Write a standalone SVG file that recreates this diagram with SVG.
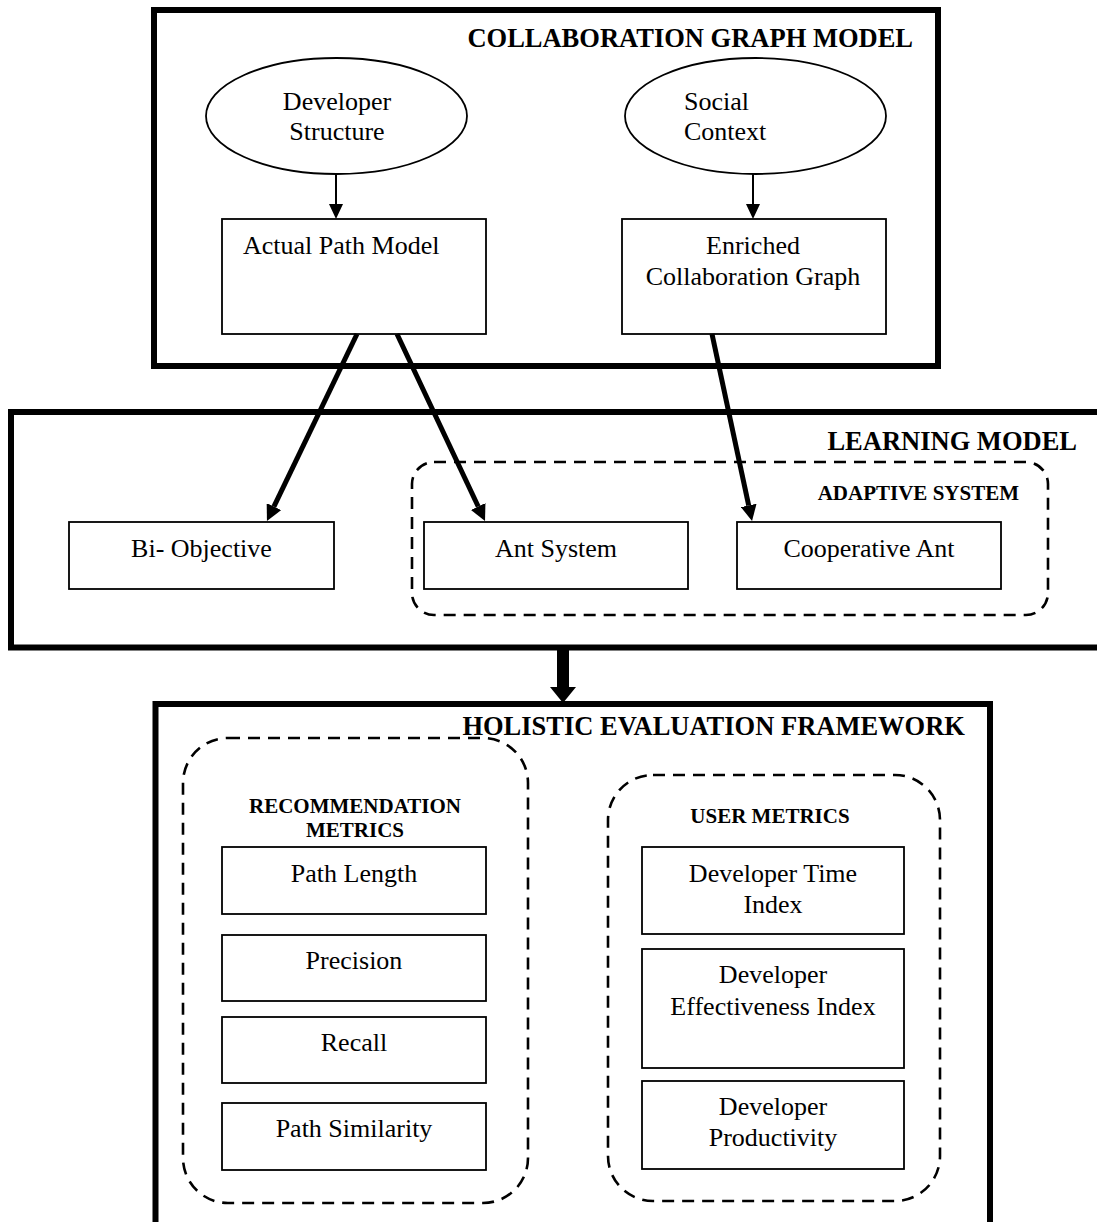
<svg xmlns="http://www.w3.org/2000/svg" width="1097" height="1222" viewBox="0 0 1097 1222">
<style>
.frame{fill:none;stroke:#000;stroke-width:6}
.box{fill:#fff;stroke:#000;stroke-width:1.8}
.dash{fill:none;stroke:#000;stroke-width:2.6;stroke-dasharray:12 8}
.t{font-family:"Liberation Serif","Times New Roman",serif;font-size:26px;fill:#000}
.h{font-family:"Liberation Serif","Times New Roman",serif;font-size:26.5px;font-weight:bold;fill:#000}
.s{font-family:"Liberation Serif","Times New Roman",serif;font-size:21px;font-weight:bold;fill:#000}
.c{text-anchor:middle}
.e{text-anchor:end}
.thin{stroke:#000;stroke-width:2;fill:none}
.thick{stroke:#000;stroke-width:5;fill:none}
</style>
<defs>
<marker id="ah" viewBox="0 0 15 14" markerWidth="15" markerHeight="14" refX="0" refY="7" orient="auto" markerUnits="userSpaceOnUse">
<path d="M0,0 L15,7 L0,14 z" fill="#000"/>
</marker>
<marker id="ahb" viewBox="0 0 16 16" markerWidth="16" markerHeight="16" refX="0" refY="8" orient="auto" markerUnits="userSpaceOnUse">
<path d="M0,0 L16,8 L0,16 z" fill="#000"/>
</marker>
</defs>
<rect width="1097" height="1222" fill="#fff"/>

<g id="collaboration-graph-model">
<rect class="frame" x="154" y="10" width="784" height="356"/>
<text class="h e" x="913" y="47">COLLABORATION GRAPH MODEL</text>
</g>
<g id="developer-structure">
<ellipse class="box" cx="336.5" cy="116" rx="130.5" ry="58"/>
<text class="t c" x="337" y="110">Developer</text>
<text class="t c" x="337" y="140">Structure</text>
</g>
<g id="social-context">
<ellipse class="box" cx="755.5" cy="116" rx="130.5" ry="58"/>
<text class="t" x="684" y="110">Social</text>
<text class="t" x="684" y="140">Context</text>
</g>
<g id="actual-path-model">
<rect class="box" x="222" y="219" width="264" height="115"/>
<text class="t" x="243" y="254">Actual Path Model</text>
</g>
<g id="enriched-collaboration-graph">
<rect class="box" x="622" y="219" width="264" height="115"/>
<text class="t c" x="753" y="254">Enriched</text>
<text class="t c" x="753" y="285">Collaboration Graph</text>
</g>

<g id="learning-model">
<rect class="frame" x="11" y="412" width="1100" height="235.5"/>
<text class="h e" x="1077" y="450">LEARNING MODEL</text>
</g>
<g id="bi-objective">
<rect class="box" x="69" y="522" width="265" height="67"/>
<text class="t c" x="201.5" y="557">Bi- Objective</text>
</g>
<g id="adaptive-system">
<rect class="dash" x="412" y="462" width="636" height="153" rx="22"/>
<text class="s e" x="1019" y="500">ADAPTIVE SYSTEM</text>
</g>
<g id="ant-system">
<rect class="box" x="424" y="522" width="264" height="67"/>
<text class="t c" x="556" y="557">Ant System</text>
</g>
<g id="cooperative-ant">
<rect class="box" x="737" y="522" width="264" height="67"/>
<text class="t c" x="869" y="557">Cooperative Ant</text>
</g>

<g id="holistic-evaluation-framework">
<rect class="frame" x="155.5" y="704" width="834.5" height="540"/>
<text class="h e" x="965" y="735">HOLISTIC EVALUATION FRAMEWORK</text>
</g>
<g id="recommendation-metrics">
<rect class="dash" x="183" y="738" width="345" height="465" rx="45"/>
<text class="s c" x="355" y="813">RECOMMENDATION</text>
<text class="s c" x="355" y="837">METRICS</text>
</g>
<g id="path-length">
<rect class="box" x="222" y="847" width="264" height="67"/>
<text class="t c" x="354" y="882">Path Length</text>
</g>
<g id="precision">
<rect class="box" x="222" y="935" width="264" height="66"/>
<text class="t c" x="354" y="969">Precision</text>
</g>
<g id="recall">
<rect class="box" x="222" y="1017" width="264" height="66"/>
<text class="t c" x="354" y="1051">Recall</text>
</g>
<g id="path-similarity">
<rect class="box" x="222" y="1103" width="264" height="67"/>
<text class="t c" x="354" y="1137">Path Similarity</text>
</g>
<g id="user-metrics">
<rect class="dash" x="608" y="775" width="332" height="426" rx="45"/>
<text class="s c" x="770" y="823">USER METRICS</text>
</g>
<g id="developer-time-index">
<rect class="box" x="642" y="847" width="262" height="87"/>
<text class="t c" x="773" y="882">Developer Time</text>
<text class="t c" x="773" y="913">Index</text>
</g>
<g id="developer-effectiveness-index">
<rect class="box" x="642" y="949" width="262" height="119"/>
<text class="t c" x="773" y="983">Developer</text>
<text class="t c" x="773" y="1015">Effectiveness Index</text>
</g>
<g id="developer-productivity">
<rect class="box" x="642" y="1081" width="262" height="88"/>
<text class="t c" x="773" y="1115">Developer</text>
<text class="t c" x="773" y="1146">Productivity</text>
</g>

<g id="connectors">
<line class="thin" x1="336" y1="174" x2="336" y2="204" marker-end="url(#ah)"/>
<line class="thin" x1="753" y1="174" x2="753" y2="204" marker-end="url(#ah)"/>
<line class="thick" x1="357" y1="334" x2="273.9" y2="506.6" marker-end="url(#ahb)"/>
<line class="thick" x1="397" y1="334" x2="478.2" y2="506.5" marker-end="url(#ahb)"/>
<line class="thick" x1="712" y1="334" x2="748.7" y2="505.4" marker-end="url(#ahb)"/>
<rect x="557" y="650" width="12" height="38" fill="#000"/>
<polygon points="550,687 576,687 563,703" fill="#000"/>
</g>
</svg>
